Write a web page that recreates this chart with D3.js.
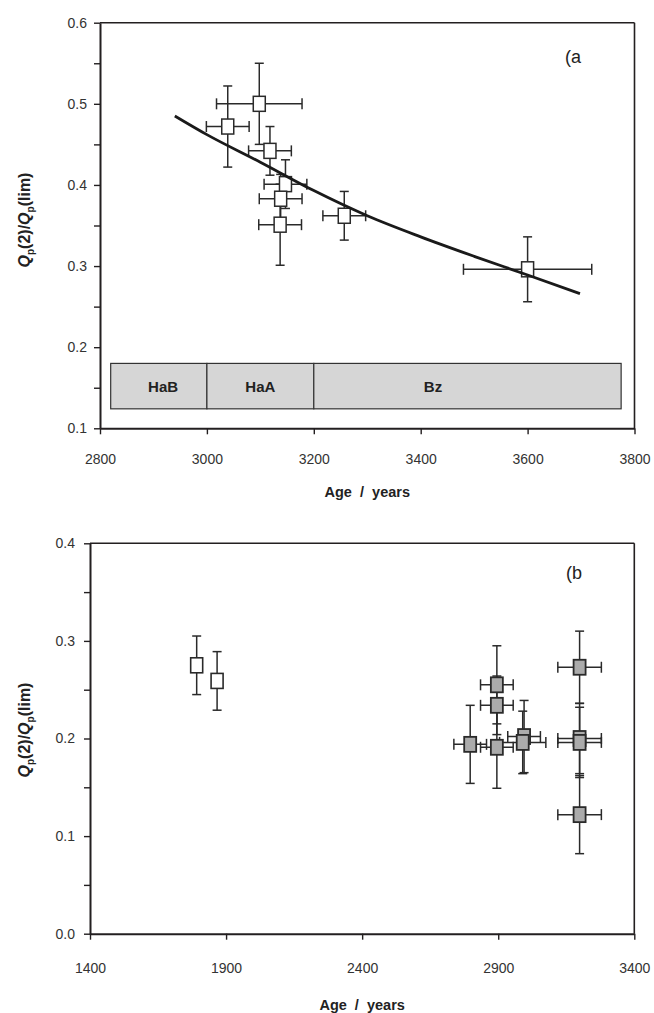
<!DOCTYPE html>
<html><head><meta charset="utf-8">
<script src="https://cdn.jsdelivr.net/npm/d3@7"></script>
<style>
html,body{margin:0;padding:0;background:#fff;}
svg{display:block;font-family:"Liberation Sans",Arial,sans-serif;}
</style></head>
<body><svg id="c" width="654" height="1013"></svg>
<script>
// ---------- Panel (a) data ----------
const ageA      = [3039, 3098, 3118, 3147, 3138, 3137, 3257, 3600];
const ratioA    = [0.472, 0.500, 0.442, 0.401, 0.383, 0.351, 0.362, 0.296];
const ageErrA   = [40, 80, 40, 40, 40, 40, 40, 120];
const ratioErrA = [0.05, 0.05, 0.03, 0.03, 0.03, 0.05, 0.03, 0.04];

const fitAge   = [2940, 3000, 3100, 3200, 3300, 3400, 3500, 3600, 3698];
const fitRatio = [0.485, 0.462, 0.428, 0.393, 0.362, 0.336, 0.312, 0.289, 0.266];

const periodNames  = ["HaB", "HaA", "Bz"];
const periodStart  = [2820, 3000, 3200];
const periodEnd    = [3000, 3200, 3775];
const periodLabelX = [2918, 3100, 3423];
const periodTop = 0.18, periodBottom = 0.124;

const xTicksA = [2800, 3000, 3200, 3400, 3600, 3800];
const yTicksA = [0.1, 0.15, 0.2, 0.25, 0.3, 0.35, 0.4, 0.45, 0.5, 0.55, 0.6];

// ---------- Panel (b) data ----------
const ageOpenB      = [1792, 1867];
const ratioOpenB    = [0.275, 0.259];
const ratioErrOpenB = [0.03, 0.03];

const ageB      = [2797, 2895, 2895, 2895, 2995, 2990, 3199, 3199, 3199, 3199];
const ratioB    = [0.194, 0.191, 0.234, 0.255, 0.202, 0.196, 0.273, 0.200, 0.196, 0.122];
const ageErrB   = [60, 60, 60, 60, 60, 85, 80, 80, 80, 80];
const ratioErrB = [0.04, 0.042, 0.03, 0.04, 0.037, 0.032, 0.037, 0.036, 0.036, 0.04];

const xTicksB = [1400, 1900, 2400, 2900, 3400];
const yTicksB = [0.0, 0.05, 0.1, 0.15, 0.2, 0.25, 0.3, 0.35, 0.4];

// ---------- drawing ----------
const svg = d3.select("#c");
const ink = "#231f20";

function panel(o) {
  const x = d3.scaleLinear().domain(o.xDomain).range([o.left, o.right]);
  const y = d3.scaleLinear().domain(o.yDomain).range([o.bottom, o.top]);
  const g = svg.append("g");

  g.append("line").attr("x1", o.left).attr("x2", o.right).attr("y1", o.top).attr("y2", o.top)
    .attr("stroke", ink).attr("stroke-width", 1.6);
  g.append("line").attr("x1", o.right).attr("x2", o.right).attr("y1", o.top).attr("y2", o.bottom)
    .attr("stroke", ink).attr("stroke-width", 1.6);

  const xAxis = d3.axisBottom(x).tickValues(o.xTicks).tickFormat(d3.format("d"))
    .tickSize(6).tickSizeOuter(0).tickPadding(o.xPad);
  const gx = g.append("g").attr("transform", `translate(0,${o.bottom})`).call(xAxis);
  const yAxis = d3.axisLeft(y).tickValues(o.yTicks)
    .tickFormat((d, i) => i % 2 === 0 ? d3.format(".1f")(d) : "")
    .tickSize(6).tickSizeOuter(0).tickPadding(o.yPad);
  const gy = g.append("g").attr("transform", `translate(${o.left},0)`).call(yAxis);
  [gx, gy].forEach(a => {
    a.select(".domain").attr("stroke", ink).attr("stroke-width", 2);
    a.selectAll(".tick line").attr("stroke", ink).attr("stroke-width", 1.4);
    a.selectAll(".tick text").attr("fill", "#333").attr("font-size", 14)
      .attr("font-family", "'Liberation Sans',Arial,sans-serif");
  });

  g.append("text").attr("x", (o.left + o.right) / 2).attr("y", o.xTitleY)
    .attr("text-anchor", "middle").attr("font-weight", "bold").attr("font-size", 14.5)
    .attr("fill", "#222").style("white-space", "pre").text("Age  /  years");
  const yt = g.append("text").attr("transform", `translate(${o.yTitleX},${o.yTitleY}) rotate(-90)`)
    .attr("text-anchor", "middle").attr("font-weight", "bold").attr("font-size", 16).attr("fill", "#222");
  yt.append("tspan").attr("font-style", "italic").text("Q");
  yt.append("tspan").attr("font-size", 10).attr("dy", 4).text("p");
  yt.append("tspan").attr("dy", -4).text("(2)/");
  yt.append("tspan").attr("font-style", "italic").text("Q");
  yt.append("tspan").attr("font-size", 10).attr("dy", 4).text("p");
  yt.append("tspan").attr("dy", -4).text("(lim)");

  g.append("text").attr("x", o.tagX).attr("y", o.tagY).attr("font-size", 18).attr("fill", "#222").text(o.tag);
  return {x, y, g};
}

function errorPoints(p, ages, vals, xErr, yErr, fill, sw) {
  const { x, y, g } = p;
  const idx = d3.range(ages.length);
  const eb = g.append("g").attr("stroke", "#2a2a2a").attr("stroke-width", 1.5).attr("fill", "none");
  idx.forEach(i => {
    const cx = x(ages[i]), cy = y(vals[i]);
    if (yErr) {
      const y1 = y(vals[i] + yErr[i]), y2 = y(vals[i] - yErr[i]);
      eb.append("line").attr("x1", cx).attr("x2", cx).attr("y1", y1).attr("y2", y2);
      eb.append("line").attr("x1", cx - 4.5).attr("x2", cx + 4.5).attr("y1", y1).attr("y2", y1);
      eb.append("line").attr("x1", cx - 4.5).attr("x2", cx + 4.5).attr("y1", y2).attr("y2", y2);
    }
    if (xErr) {
      const x1 = x(ages[i] - xErr[i]), x2 = x(ages[i] + xErr[i]);
      eb.append("line").attr("x1", x1).attr("x2", x2).attr("y1", cy).attr("y2", cy);
      eb.append("line").attr("x1", x1).attr("x2", x1).attr("y1", cy - 5.5).attr("y2", cy + 5.5);
      eb.append("line").attr("x1", x2).attr("x2", x2).attr("y1", cy - 5.5).attr("y2", cy + 5.5);
    }
  });
  g.append("g").selectAll("rect").data(idx).join("rect")
    .attr("x", i => x(ages[i]) - 6).attr("y", i => y(vals[i]) - 7.5)
    .attr("width", 12).attr("height", 15)
    .attr("fill", fill).attr("stroke", "#2a2a2a").attr("stroke-width", sw);
}

// Panel (a)
const pa = panel({
  xDomain: [2800, 3800], yDomain: [0.1, 0.6],
  left: 100, right: 634.5, top: 22.7, bottom: 428.3,
  xTicks: xTicksA, yTicks: yTicksA, xPad: 20, yPad: 7,
  xTitleY: 497, yTitleX: 30, yTitleY: 220, tag: "(a", tagX: 565, tagY: 63
});
periodNames.forEach((n, i) => {
  pa.g.append("rect").attr("x", pa.x(periodStart[i])).attr("y", pa.y(periodTop))
    .attr("width", pa.x(periodEnd[i]) - pa.x(periodStart[i]))
    .attr("height", pa.y(periodBottom) - pa.y(periodTop))
    .attr("fill", "#d6d6d6").attr("stroke", "#333").attr("stroke-width", 1.2);
  pa.g.append("text").attr("x", pa.x(periodLabelX[i])).attr("y", pa.y((periodTop + periodBottom) / 2) + 5.5)
    .attr("text-anchor", "middle").attr("font-weight", "bold").attr("font-size", 15).attr("fill", "#222").text(n);
});
errorPoints(pa, ageA, ratioA, ageErrA, ratioErrA, "#fff", 1.5);
pa.g.append("path").datum(d3.range(fitAge.length))
  .attr("d", d3.line().x(i => pa.x(fitAge[i])).y(i => pa.y(fitRatio[i])).curve(d3.curveMonotoneX))
  .attr("fill", "none").attr("stroke", "#1a1a1a").attr("stroke-width", 2.8);

// Panel (b)
const pb = panel({
  xDomain: [1400, 3400], yDomain: [0.0, 0.4],
  left: 90, right: 634.3, top: 543.3, bottom: 933.7,
  xTicks: xTicksB, yTicks: yTicksB, xPad: 23, yPad: 9,
  xTitleY: 1010, yTitleX: 30, yTitleY: 730, tag: "(b", tagX: 566, tagY: 579
});
errorPoints(pb, ageOpenB, ratioOpenB, null, ratioErrOpenB, "#fff", 1.6);
errorPoints(pb, ageB, ratioB, ageErrB, ratioErrB, "#ababab", 1.8);
</script></body></html>
